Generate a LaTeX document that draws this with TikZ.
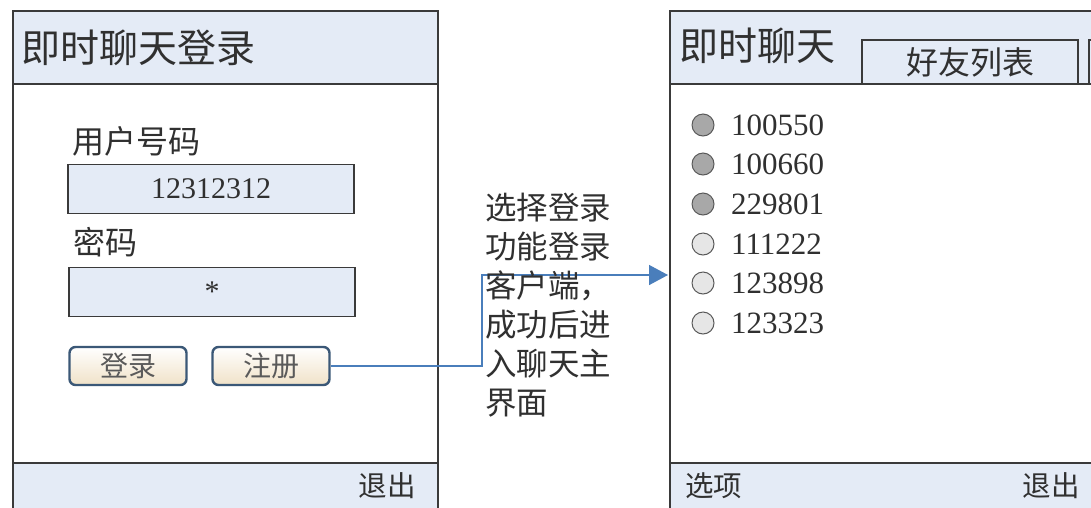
\documentclass[tikz,border=0pt]{standalone}
\usepackage{fontspec}
\setmainfont{Liberation Serif}
\newfontfamily\cjk{Noto Sans CJK SC}
\usetikzlibrary{arrows.meta}
\definecolor{hdr}{HTML}{E4EBF6}
\definecolor{framec}{HTML}{3A3A3A}
\definecolor{arrowblue}{HTML}{4A7EBB}
\definecolor{btnborder}{HTML}{3B5877}
\definecolor{btnbot}{HTML}{F0E2C8}
\definecolor{txt}{HTML}{303030}
\definecolor{dotdark}{HTML}{A8A8A8}
\definecolor{dotlight}{HTML}{E6E6E6}
\begin{document}
\begin{tikzpicture}[x=1pt,y=-1pt,
  phoneline/.style={draw=framec, line width=2pt},
  sepline/.style={draw=framec, line width=1.6pt},
  title/.style={anchor=west, inner sep=0pt, text=txt, font=\cjk\fontsize{39}{39}\selectfont},
  label/.style={anchor=west, inner sep=0pt, text=txt, font=\cjk\fontsize{32}{32}\selectfont},
  foot/.style={inner sep=0pt, text=txt, font=\cjk\fontsize{28.5}{28.5}\selectfont},
  inbox/.style={draw=framec, line width=1.6pt, fill=hdr, inner sep=0pt,
     minimum width=286pt, minimum height=49pt, text=txt, font=\fontsize{30}{30}\selectfont},
  btn/.style={draw=btnborder, line width=2.4pt, rounded corners=6pt, top color=white,
     bottom color=btnbot, inner sep=0pt, minimum width=117pt, minimum height=38pt,
     text=txt!80, font=\cjk\fontsize{28}{28}\selectfont},
  conn/.style={draw=arrowblue, line width=1.4pt, -{Triangle[length=19pt,width=20pt]}},
  caption/.style={anchor=west, inner sep=0pt, align=left, text=txt, font=\cjk\fontsize{31.5}{39}\selectfont},
  dot/.style={circle, draw=black!65, line width=1pt, minimum size=22pt, inner sep=0pt},
  num/.style={anchor=west, inner sep=0pt, text=txt, font=\fontsize{31}{31}\selectfont},
  tabbox/.style={draw=framec, line width=1.6pt, fill=hdr, inner sep=0pt,
     minimum width=216pt, minimum height=44pt, text=txt, font=\cjk\fontsize{32}{32}\selectfont}
]
\useasboundingbox (0,0) rectangle (1091,507);
\clip (0,0) rectangle (1091,507);
\fill[white] (0,0) rectangle (1091,507);

% ---------- left phone ----------
\fill[hdr] (13,11) rectangle (438,84);
\fill[hdr] (13,463) rectangle (438,520);
\draw[phoneline] (13,520) -- (13,11) -- (438,11) -- (438,520);
\draw[sepline] (13,84) -- (438,84);
\draw[sepline] (13,463) -- (438,463);
\node[title] (ltitle) at (21,48) {即时聊天登录};
\node[label] (ulabel) at (72,141) {用户号码};
\node[inbox] (user) at (211,189) {12312312};
\node[label] (plabel) at (73,242) {密码};
\node[inbox] (pass) at (212,292) {*};
\node[btn] (login) at (128,366) {登录};
\node[btn] (reg) at (271,366) {注册};
\node[foot, anchor=east] (lexit) at (416,486) {退出};

% ---------- right phone ----------
\fill[hdr] (670,11) rectangle (1100,84);
\fill[hdr] (670,463) rectangle (1100,520);
\draw[phoneline] (670,520) -- (670,11) -- (1100,11);
\node[title] (rtitle) at (679,46) {即时聊天};
\node[tabbox] (tab) at (970,62) {好友列表};
\draw[sepline] (1089,84) -- (1089,40) -- (1100,40);
\draw[sepline] (670,84) -- (1100,84);
\draw[sepline] (670,463) -- (1100,463);
\node[foot, anchor=west] (opt) at (685,486) {选项};
\node[foot, anchor=east] (rexit) at (1080,486) {退出};

\node[dot, fill=dotdark]  (d1) at (703,125) {};
\node[dot, fill=dotdark]  (d2) at (703,164) {};
\node[dot, fill=dotdark]  (d3) at (703,204) {};
\node[dot, fill=dotlight] (d4) at (703,244) {};
\node[dot, fill=dotlight] (d5) at (703,283) {};
\node[dot, fill=dotlight] (d6) at (703,323) {};
\node[num] (n1) at (731,125) {100550};
\node[num] (n2) at (731,164) {100660};
\node[num] (n3) at (731,204) {229801};
\node[num] (n4) at (731,244) {111222};
\node[num] (n5) at (731,283) {123898};
\node[num] (n6) at (731,323) {123323};

% ---------- connector ----------
\coordinate (tip) at (668,275);
\draw[conn] (reg.east) -- (482,366) |- (tip);
\node[caption] (cap) at (485,305) {选择登录\\功能登录\\客户端，\\成功后进\\入聊天主\\界面};
\end{tikzpicture}
\end{document}
